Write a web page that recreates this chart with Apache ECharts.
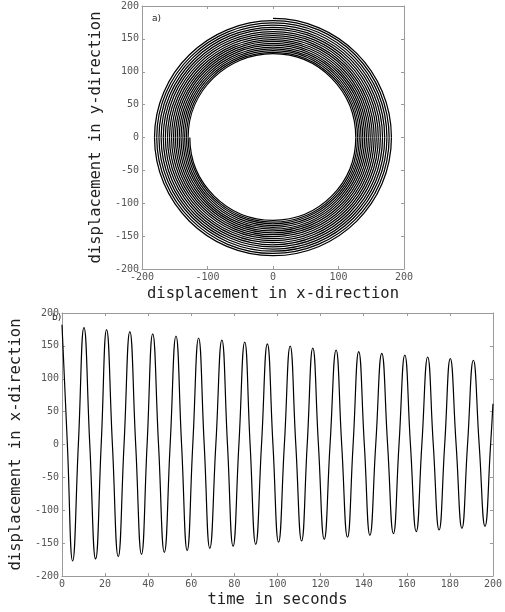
<!DOCTYPE html>
<html>
<head>
<meta charset="utf-8">
<script src="https://cdn.jsdelivr.net/npm/echarts@6/dist/echarts.min.js"></script>
<style>
html,body{margin:0;padding:0;background:#fff;}
#chart{width:505px;height:612px;}
</style>
</head>
<body>
<div id="chart"></div>
<script>
// ---- Panel a) spiral: crossing values per loop (read from picture) ----
var spiralTopY    = [181.0, 177.6, 174.2, 170.9, 167.6, 164.4, 161.2, 158.1, 155.0, 152.0, 149.0, 146.1, 143.2, 140.4, 137.6, 134.9, 132.2, 129.6, 127.5];
var spiralRightX  = [180.8, 177.3, 173.9, 170.5, 167.2, 163.9, 160.7, 157.6, 154.5, 151.5, 148.5, 145.6, 142.7, 139.9, 137.1, 134.4, 131.7, 129.0, 126.4];
var spiralBottomY = [-179.8, -176.4, -173.0, -169.7, -166.4, -163.2, -160.0, -156.9, -153.9, -150.9, -147.9, -145.0, -142.2, -139.4, -136.6, -133.9, -131.2, -128.6, -126.0];
var spiralLeftX   = [-180.9, -177.5, -174.1, -170.8, -167.5, -164.3, -161.1, -158.0, -154.9, -151.9, -149.0, -146.1, -143.2, -140.4, -137.6, -134.9, -132.2, -129.6, -127.0];

// ---- Panel b) time series: extrema and zero crossings (read from picture) ----
var peakT    = [0, 10.2, 20.7, 31.5, 42.1, 52.9, 63.4, 74.2, 84.8, 95.3, 105.9, 116.4, 127.2, 137.7, 148.4, 159.1, 169.7, 180.2, 190.9];
var peakV    = [182, 177.8, 174.7, 171.7, 168.1, 165.0, 162.0, 158.9, 155.9, 152.9, 149.8, 146.8, 143.7, 141.3, 138.7, 136.1, 133.1, 130.6, 128.1];
var troughT  = [4.94, 15.6, 26.1, 36.9, 47.5, 58.1, 68.6, 79.4, 89.9, 100.5, 111.2, 121.7, 132.5, 142.9, 153.8, 164.4, 175.0, 185.6, 196.3];
var troughV  = [-177.2, -174.1, -170.6, -167.0, -164.0, -161.4, -157.9, -154.8, -151.8, -148.7, -146.8, -144.2, -141.1, -138.1, -135.5, -132.5, -130.0, -127.5, -124.4];
var zeroDownT = [2.5, 12.9, 23.4, 34.2, 44.8, 55.5, 66.0, 76.8, 87.3, 97.9, 108.5, 119.0, 129.8, 140.3, 151.1, 161.7, 172.3, 182.9, 193.6];
var zeroUpT   = [7.6, 18.2, 28.8, 39.5, 50.2, 60.7, 71.4, 82.1, 92.6, 103.2, 113.8, 124.4, 135.1, 145.6, 156.4, 167.0, 177.6, 188.2, 198.9];
var endPoint  = [200, 62];

// ticks
var aTicks = {xMin: -200, xMax: 200, xStep: 100, yMin: -200, yMax: 200, yStep: 50};
var bTicks = {xMin: 0, xMax: 200, xStep: 20, yMin: -200, yMax: 200, yStep: 50};

// ---- build series data ----
var spiralData = [];
for (var i = 0; i < spiralRightX.length; i++) {
  spiralData.push([0, spiralTopY[i]]);
  spiralData.push([spiralRightX[i], 0]);
  spiralData.push([0, spiralBottomY[i]]);
  spiralData.push([spiralLeftX[i], 0]);
}
var timeData = [];
for (var j = 0; j < peakT.length; j++) {
  timeData.push([peakT[j], peakV[j]]);
  timeData.push([zeroDownT[j], 0]);
  timeData.push([troughT[j], troughV[j]]);
  timeData.push([zeroUpT[j], 0]);
}
timeData.push(endPoint);

var SMOOTH = 0.5523;
function spiralRender(params, api) {
  var n = spiralData.length;
  var i = params.dataIndex;
  if (i >= n - 1) return {type: 'group', children: []};
  function P(k) { return api.coord(spiralData[k]); }
  var c = api.coord([0, 0]);
  function reflect(p0, p1) {
    var dx = p0[0] - c[0], dy = p0[1] - c[1];
    var L = Math.sqrt(dx * dx + dy * dy); dx /= L; dy /= L;
    var t = (p1[0] - c[0]) * dx + (p1[1] - c[1]) * dy;
    var fx = c[0] + dx * t, fy = c[1] + dy * t;
    return [2 * fx - p1[0], 2 * fy - p1[1]];
  }
  function tangent(k) {
    var prev, next;
    if (k === 0) { next = P(1); prev = reflect(P(0), next); }
    else if (k === n - 1) { prev = P(n - 2); next = reflect(P(n - 1), prev); }
    else { prev = P(k - 1); next = P(k + 1); }
    return [(next[0] - prev[0]) * SMOOTH / 2, (next[1] - prev[1]) * SMOOTH / 2];
  }
  var A = P(i), B = P(i + 1), TA = tangent(i), TB = tangent(i + 1);
  return {
    type: 'bezierCurve',
    shape: {x1: A[0], y1: A[1], x2: B[0], y2: B[1],
            cpx1: A[0] + TA[0], cpy1: A[1] + TA[1],
            cpx2: B[0] - TB[0], cpy2: B[1] - TB[1]},
    style: {stroke: '#000', lineWidth: 1.25, fill: null}
  };
}

var mono = 'DejaVu Sans Mono';
var frameColor = '#9a9a9a';
function mkAxis(gridIndex, pos, t, isX, main, name, nameGap) {
  var ax = {
    type: 'value', gridIndex: gridIndex, position: pos,
    min: isX ? t.xMin : t.yMin, max: isX ? t.xMax : t.yMax,
    interval: isX ? t.xStep : t.yStep,
    axisLine: {show: true, onZero: false, lineStyle: {color: frameColor, width: 1}},
    axisTick: {show: true, inside: true, length: 3, lineStyle: {color: frameColor}},
    splitLine: {show: false},
    axisLabel: {show: main, fontFamily: mono, fontSize: 10, color: '#555', margin: 3,
                showMinLabel: true, showMaxLabel: true}
  };
  if (main) {
    ax.name = name;
    ax.nameLocation = 'middle';
    ax.nameGap = nameGap;
    ax.nameTextStyle = {fontFamily: mono, fontSize: 15.5, color: '#222'};
  }
  return ax;
}

var chart = echarts.init(document.getElementById('chart'), null, {renderer: 'canvas'});
chart.setOption({
  animation: false,
  backgroundColor: '#fff',
  grid: [
    {left: 142, width: 262, top: 6, height: 263, show: false},
    {left: 52, width: 445, top: 313, height: 263, show: false}
  ],
  xAxis: [
    mkAxis(0, 'bottom', aTicks, true, true, 'displacement in x-direction', 17),
    mkAxis(0, 'top', aTicks, true, false),
    mkAxis(1, 'bottom', bTicks, true, true, 'time in seconds', 16),
    mkAxis(1, 'top', bTicks, true, false)
  ],
  yAxis: [
    mkAxis(0, 'left', aTicks, false, true, 'displacement in y-direction', 23),
    mkAxis(0, 'right', aTicks, false, false),
    mkAxis(1, 'left', bTicks, false, true, 'displacement in x-direction', 27),
    mkAxis(1, 'right', bTicks, false, false)
  ],
  graphic: [
    {type: 'text', left: 152, top: 14, style: {text: 'a)', font: '9px "DejaVu Sans"', fill: '#222'}},
    {type: 'text', left: 52, top: 313, style: {text: 'b)', font: '9px "DejaVu Sans"', fill: '#222'}}
  ],
  series: [
    {type: 'custom', coordinateSystem: 'cartesian2d', xAxisIndex: 0, yAxisIndex: 0,
     data: spiralData, encode: {x: 0, y: 1}, renderItem: spiralRender, silent: true, clip: true},
    {type: 'line', xAxisIndex: 2, yAxisIndex: 2, data: timeData, smooth: 0.5,
     showSymbol: false, lineStyle: {color: '#000', width: 1.2}, silent: true}
  ]
});
</script>
</body>
</html>
